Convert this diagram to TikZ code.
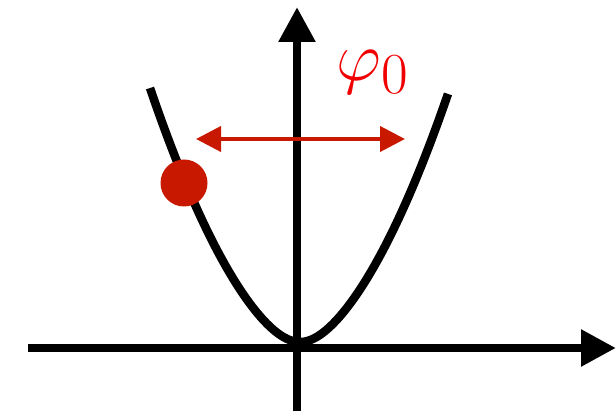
\documentclass[tikz,border=0pt]{standalone}
\usepackage{amsmath,amssymb}
\usepackage{xcolor}
\usetikzlibrary{arrows.meta,positioning}
\definecolor{ballred}{RGB}{200,25,0}
\definecolor{labelred}{RGB}{240,0,0}

\begin{document}
\begin{tikzpicture}[
  x=1pt, y=-1pt,
  axis/.style={line width=8.5pt, -{Triangle[length=35pt,width=35pt]}},
  curve/.style={line width=8.5pt, line join=round},
  ball/.style={circle, fill=ballred, minimum size=47pt, inner sep=0pt},
  swing/.style={draw=ballred, line width=4pt, {Triangle[length=25pt,width=25pt]}-{Triangle[length=25pt,width=25pt]}},
]
  \useasboundingbox (0,0) rectangle (616,411);
  % axes
  \coordinate (xstart) at (28,348);
  \coordinate (xend) at (616,348);
  \coordinate (ystart) at (297,411);
  \coordinate (yend) at (297,7);
  \draw[axis] (xstart) -- (xend);
  \draw[axis] (ystart) -- (yend);
  % potential well
  \draw[curve] plot[domain=-15:14.8, samples=121] ({300+10*\x},{342-0.754*\x*\x-6.857*(sqrt(\x*\x+9)-3)});
  \node[ball] (ball) at (184,183) {};
  % oscillation
  \coordinate (left) at (196,139);
  \coordinate (right) at (405,139);
  \draw[swing] (left) -- (right);
  \node[text=labelred, inner sep=0pt, font=\Huge, scale=2.8] (amp) at (373,72) {$\varphi_0$};
\end{tikzpicture}
\end{document}
